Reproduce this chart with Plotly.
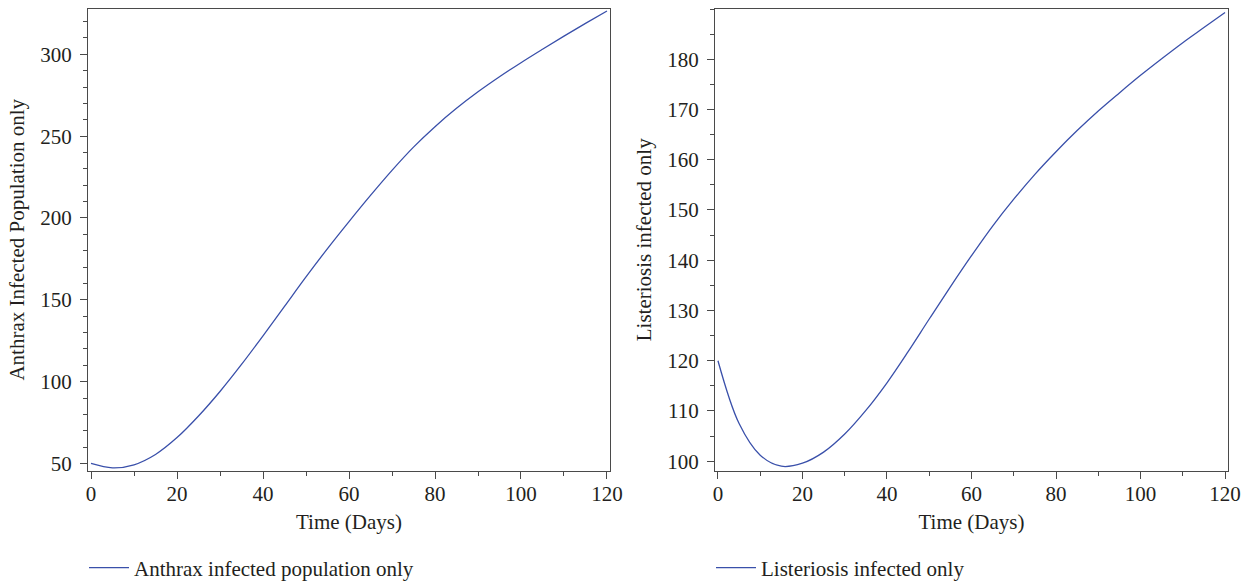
import plotly.graph_objects as go

days = [0, 5, 10, 15, 20, 25, 30, 35, 40, 45, 50, 55, 60,
        65, 70, 75, 80, 85, 90, 95, 100, 105, 110, 115, 120]
anthrax = [50, 47.3, 49.2, 55.5, 65.8, 79, 94, 110.5, 128,
           146, 164, 181.3, 197.8, 213.8, 229.1, 243.3, 255.8, 267, 277.1, 286.3,
           294.9, 303.1, 311.1, 318.9, 326.5]
listeria = [120, 107.5, 101.2, 99.0, 99.6, 101.8, 105.4,
            110.1, 115.6, 121.8, 128.3, 134.7, 140.9, 146.8, 152.15, 157.1, 161.6,
            165.8, 169.7, 173.3, 176.8, 180.1, 183.3, 186.3, 189.3]

name_a = "Anthrax infected population only"
name_l = "Listeriosis infected only"
ytitle_a = "Anthrax Infected Population only"
ytitle_l = "Listeriosis infected only"
xtitle = "Time (Days)"

W, H = 1258, 584
LINE = "#3a50aa"
AX = "#4a4a4a"
TXT = "#231f20"
FONT = "Liberation Serif"
FS = 21

fig = go.Figure()
fig.add_trace(go.Scatter(x=days, y=anthrax, mode="lines", name=name_a,
                         line=dict(color=LINE, width=1.3, shape="spline", smoothing=1.0),
                         xaxis="x", yaxis="y", legend="legend"))
fig.add_trace(go.Scatter(x=days, y=listeria, mode="lines", name=name_l,
                         line=dict(color=LINE, width=1.3, shape="spline", smoothing=1.0),
                         xaxis="x2", yaxis="y2", legend="legend2"))

ydom = [(H - 470.5) / H, (H - 9) / H]

def xax(dom, anchor):
    return dict(domain=dom, anchor=anchor, range=[-0.7, 120.7], tickmode="array",
                tickvals=[0, 20, 40, 60, 80, 100, 120], showgrid=False, zeroline=False,
                showline=True, mirror=True, linecolor=AX, linewidth=1, automargin=False,
                ticks="outside", ticklen=7, tickcolor=AX, tickwidth=1, ticklabelstandoff=-3,
                minor=dict(dtick=10, tick0=0, ticks="outside", ticklen=4, tickcolor=AX),
                title=dict(text=xtitle, standoff=9, font=dict(size=FS, color=TXT, family=FONT)),
                tickfont=dict(size=FS, color=TXT, family=FONT))

def yax(dom, anchor, rng, tv, mdt, title):
    return dict(domain=dom, anchor=anchor, range=rng, tickmode="array", tickvals=tv,
                showgrid=False, zeroline=False, showline=True, mirror=True,
                linecolor=AX, linewidth=1, ticks="outside", ticklen=7, tickcolor=AX,
                tickwidth=1, automargin=False, ticklabelstandoff=4,
                minor=dict(dtick=mdt, tick0=0, ticks="outside", ticklen=4, tickcolor=AX),
                title=dict(text=title, standoff=9, font=dict(size=FS, color=TXT, family=FONT)),
                tickfont=dict(size=FS, color=TXT, family=FONT))

fig.update_layout(
    width=W, height=H, margin=dict(l=0, r=0, t=0, b=0, autoexpand=False),
    paper_bgcolor="white", plot_bgcolor="white",
    font=dict(family=FONT, size=FS, color=TXT),
    xaxis=xax([88 / W, 610 / W], "y"),
    yaxis=yax(ydom, "x", [45.7, 327.7], [50, 100, 150, 200, 250, 300], 10, ytitle_a),
    xaxis2=xax([715 / W, 1228 / W], "y2"),
    yaxis2=yax(ydom, "x2", [98.15, 190], [100, 110, 120, 130, 140, 150, 160, 170, 180], 5, ytitle_l),
    showlegend=True,
    legend=dict(x=84 / W, y=(H - 568) / H, xanchor="left", yanchor="middle", itemwidth=40,
                bgcolor="rgba(0,0,0,0)", font=dict(size=FS, color=TXT, family=FONT)),
    legend2=dict(x=711 / W, y=(H - 568) / H, xanchor="left", yanchor="middle", itemwidth=40,
                 bgcolor="rgba(0,0,0,0)", font=dict(size=FS, color=TXT, family=FONT)),
)

fig.write_html("out.html", config={"displayModeBar": False},
               post_script="document.body.style.margin='0px';")
